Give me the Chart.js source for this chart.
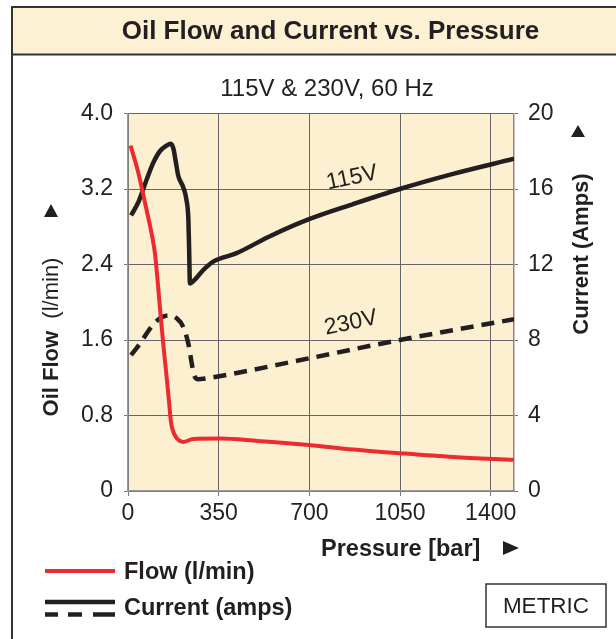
<!DOCTYPE html>
<html><head><meta charset="utf-8">
<script src="https://cdn.jsdelivr.net/npm/chart.js@4.4.1/dist/chart.umd.min.js"></script>
<style>html,body{margin:0;padding:0;background:#fff;overflow:hidden}#wrap{position:relative;width:616px;height:639px}canvas{display:block}</style>
</head><body><div id="wrap"><canvas id="c" width="616" height="639"></canvas></div>
<script>
// ---- data ----
const pressureTicks = [0, 350, 700, 1050, 1400];
const flowTicks = [0, 0.8, 1.6, 2.4, 3.2, 4.0];
const flowTickLabels = ['0', '0.8', '1.6', '2.4', '3.2', '4.0'];
const currentTicks = [0, 4, 8, 12, 16, 20];

const flowPressure = [10, 40, 66, 91, 104, 113, 123, 136, 149, 159, 165, 172, 188, 213, 252, 355, 500, 689, 869, 1049, 1255, 1490];
const flowValues   = [3.66, 3.37, 3.05, 2.73, 2.52, 2.27, 1.95, 1.56, 1.21, 0.93, 0.75, 0.65, 0.56, 0.52, 0.55, 0.555, 0.53, 0.49, 0.44, 0.40, 0.36, 0.33];

const p115 = [12, 40, 72, 98, 123, 149, 165, 175, 185, 194, 213, 226, 233, 236, 239, 258, 290, 329, 419, 548, 699, 869, 1049, 1255, 1490];
const c115 = [14.6, 15.3, 16.5, 17.4, 18.0, 18.3, 18.4, 18.15, 17.4, 16.7, 16.1, 15.4, 14.4, 12.8, 11.0, 11.2, 11.7, 12.15, 12.6, 13.5, 14.4, 15.2, 16.0, 16.8, 17.6];

const p230 = [12, 46, 85, 123, 155, 188, 213, 233, 246, 255, 271, 303, 699, 1049, 1490];
const c230 = [7.2, 7.8, 8.6, 9.15, 9.3, 9.15, 8.7, 7.8, 6.76, 6.15, 5.92, 5.97, 7.03, 8.0, 9.1];

const FONT = "'Liberation Sans', Arial, Helvetica, sans-serif";
const INK = '#231f20';
const RED = '#ec2b2f';

Chart.defaults.font.family = FONT;

const deco = {
  id: 'deco',
  beforeDraw(chart) {
    const ctx = chart.ctx, a = chart.chartArea;
    ctx.save();
    ctx.fillStyle = '#fff'; ctx.fillRect(0, 0, 616, 639);
    ctx.fillStyle = '#fdf1d4'; ctx.fillRect(12, 7, 620, 47.5);
    ctx.strokeStyle = '#333'; ctx.lineWidth = 2;
    ctx.beginPath(); ctx.moveTo(12, 660); ctx.lineTo(12, 7); ctx.lineTo(630, 7); ctx.stroke();
    ctx.beginPath(); ctx.moveTo(12, 54.5); ctx.lineTo(630, 54.5); ctx.stroke();
    ctx.fillStyle = '#fdf0d0'; ctx.fillRect(a.left, a.top, a.right - a.left, a.bottom - a.top);
    ctx.restore();
  },
  afterDraw(chart) {
    const ctx = chart.ctx;
    ctx.save();
    ctx.fillStyle = INK;
    ctx.textBaseline = 'alphabetic';
    // title + subtitle
    ctx.textAlign = 'center';
    ctx.font = `bold 26px ${FONT}`;
    ctx.fillText('Oil Flow and Current vs. Pressure', 330.5, 39);
    ctx.font = `24px ${FONT}`;
    ctx.fillText('115V & 230V, 60 Hz', 327, 96);
    // curve labels
    const lbl = (t, x, y) => { ctx.save(); ctx.translate(x, y); ctx.rotate(-12 * Math.PI / 180); ctx.textBaseline = 'middle'; ctx.fillText(t, 0, 0); ctx.restore(); };
    ctx.font = `23px ${FONT}`;
    lbl('115V', 352, 178);
    lbl('230V', 351, 323);
    // left axis title (mixed)
    ctx.save();
    ctx.translate(58, 337); ctx.rotate(-Math.PI / 2);
    ctx.textAlign = 'left';
    ctx.font = `bold 22px ${FONT}`;
    const w1 = ctx.measureText('Oil Flow').width;
    ctx.font = `22px ${FONT}`;
    const sp = ctx.measureText('  ').width;
    const w2 = ctx.measureText('(l/min)').width;
    const W = w1 + sp + w2;
    ctx.font = `bold 22px ${FONT}`;
    ctx.fillText('Oil Flow', -W / 2, 0);
    ctx.font = `22px ${FONT}`;
    ctx.fillText('(l/min)', -W / 2 + w1 + sp, 0);
    ctx.restore();
    // right axis title
    ctx.save();
    ctx.translate(588, 254); ctx.rotate(-Math.PI / 2);
    ctx.textAlign = 'center';
    ctx.font = `bold 22px ${FONT}`;
    ctx.fillText('Current (Amps)', 0, 0);
    ctx.restore();
    // x axis title
    ctx.textAlign = 'left';
    ctx.font = `bold 23.5px ${FONT}`;
    ctx.fillText('Pressure [bar]', 321, 556);
    // arrows
    const tri = (pts) => { ctx.beginPath(); ctx.moveTo(pts[0], pts[1]); ctx.lineTo(pts[2], pts[3]); ctx.lineTo(pts[4], pts[5]); ctx.closePath(); ctx.fill(); };
    tri([51, 204, 44, 217, 58, 217]);
    tri([578, 125, 571, 137, 585, 137]);
    tri([503, 541, 503, 555, 519, 548]);
    // legend
    ctx.lineCap = 'butt';
    ctx.strokeStyle = RED; ctx.lineWidth = 4;
    ctx.beginPath(); ctx.moveTo(45, 571); ctx.lineTo(115, 571); ctx.stroke();
    ctx.strokeStyle = INK; ctx.lineWidth = 4.5;
    ctx.beginPath(); ctx.moveTo(45, 602); ctx.lineTo(115, 602); ctx.stroke();
    [[45, 58], [68, 82], [93, 115]].forEach(s => { ctx.beginPath(); ctx.moveTo(s[0], 614.5); ctx.lineTo(s[1], 614.5); ctx.stroke(); });
    ctx.font = `bold 23.5px ${FONT}`;
    ctx.fillText('Flow (l/min)', 124, 579);
    ctx.fillText('Current (amps)', 124, 615);
    // METRIC box
    ctx.strokeStyle = '#333'; ctx.lineWidth = 1.5;
    ctx.strokeRect(486, 584, 120, 43);
    ctx.textAlign = 'center';
    ctx.font = `22.5px ${FONT}`;
    ctx.fillText('METRIC', 546, 613);
    ctx.restore();
  }
};

const toPts = (xs, ys) => xs.map((x, i) => ({ x, y: ys[i] }));

new Chart(document.getElementById('c'), {
  type: 'line',
  data: {
    datasets: [
      { label: 'Flow (l/min)', data: toPts(flowPressure, flowValues), yAxisID: 'y', borderColor: RED, borderWidth: 4, cubicInterpolationMode: 'monotone', pointRadius: 0, fill: false },
      { label: '115V', data: toPts(p115, c115), yAxisID: 'y1', borderColor: INK, borderWidth: 4.5, cubicInterpolationMode: 'monotone', pointRadius: 0, fill: false, borderJoinStyle: 'round' },
      { label: '230V', data: toPts(p230, c230), yAxisID: 'y1', borderColor: INK, borderWidth: 4.5, borderDash: [13, 8], cubicInterpolationMode: 'monotone', pointRadius: 0, fill: false }
    ]
  },
  options: {
    responsive: false,
    animation: false,
    devicePixelRatio: 1,
    layout: { padding: { top: 113.5, left: 0, right: 0, bottom: 0 } },
    plugins: { legend: { display: false }, tooltip: { enabled: false }, title: { display: false } },
    scales: {
      x: {
        type: 'linear', position: 'bottom', min: 0, max: 1490,
        afterBuildTicks: s => { s.ticks = pressureTicks.map(v => ({ value: v })); },
        afterFit: s => { s.height = 148; },
        grid: { color: '#666', lineWidth: 1, tickLength: 5, tickColor: '#777' },
        border: { color: '#999', width: 1.5 },
        ticks: { color: INK, font: { size: 23 }, padding: 4, maxRotation: 0, autoSkip: false, callback: v => String(v) }
      },
      y: {
        position: 'left', min: 0, max: 4,
        afterBuildTicks: s => { s.ticks = flowTicks.map(v => ({ value: v })); },
        afterFit: s => { s.width = 128; },
        grid: { color: '#666', lineWidth: 1, tickLength: 4, tickColor: '#777' },
        border: { color: '#999', width: 1.5 },
        ticks: { color: INK, font: { size: 23 }, padding: 11, callback: (v, i) => flowTickLabels[i] }
      },
      y1: {
        position: 'right', min: 0, max: 20,
        afterBuildTicks: s => { s.ticks = currentTicks.map(v => ({ value: v })); },
        afterFit: s => { s.width = 102; },
        grid: { drawOnChartArea: false, tickLength: 4, color: '#777' },
        border: { color: '#888', width: 1.5 },
        ticks: { color: INK, font: { size: 23 }, padding: 10, callback: v => String(v) }
      }
    }
  },
  plugins: [deco]
});
</script>
</body></html>
